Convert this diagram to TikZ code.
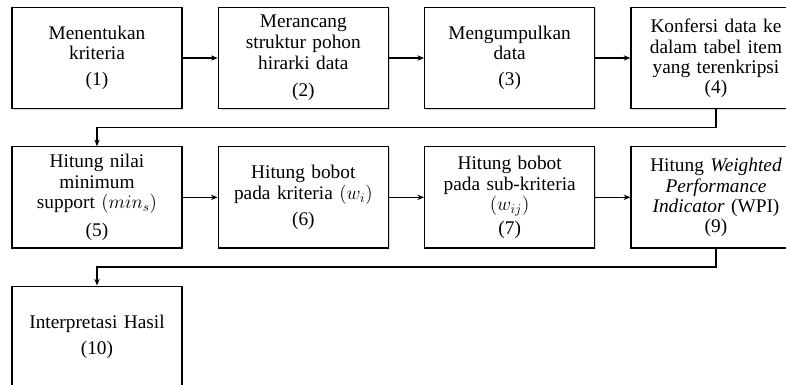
\documentclass[tikz,border=0pt]{standalone}
\usepackage{fontspec}
\setmainfont{Liberation Serif}
\usepackage{tikz}
\usetikzlibrary{positioning}
\usetikzlibrary{arrows.meta}
\usetikzlibrary{shadows}

\begin{document}
\begin{tikzpicture}[x=0.75pt, y=0.75pt, node distance=27.75pt and 26.25pt, every node/.style={font=\fontsize{14.5pt}{15.5pt}\selectfont}, stepbox/.style={draw, line width=1pt, fill=white, align=center, text width=122pt, inner sep=0pt, minimum width=127.5pt, minimum height=75.75pt, drop shadow={shadow xshift=1pt, shadow yshift=-1pt, opacity=0.3}}, link/.style={-{Stealth[length=5pt, width=4pt]}, line width=0.8pt}]
  \useasboundingbox (0,0) rectangle (786,-385);
  % baris pertama
  \node[stepbox] (kriteria) at (97,-58) {Menentukan\\kriteria\\[4pt](1)};
  \node[stepbox, right=of kriteria] (struktur) {Merancang\\struktur pohon\\hirarki data\\[5pt](2)};
  \node[stepbox, right=of struktur] (kumpul) {Mengumpulkan\\data\\[4pt](3)};
  \node[stepbox, right=of kumpul] (konversi) {Konfersi data ke\\dalam tabel item\\yang terenkripsi\\[-1pt](4)};
  % baris kedua
  \node[stepbox, below=of kriteria] (minsup) {Hitung nilai\\minimum\\support $(min_s)$\\[5pt](5)};
  \node[stepbox, right=of minsup] (bobotk) {Hitung bobot\\pada kriteria $(w_i)$\\[4pt](6)};
  \node[stepbox, right=of bobotk] (bobotsk) {Hitung bobot\\pada sub-kriteria\\$(w_{ij})$\\[2pt](7)};
  \node[stepbox, right=of bobotsk] (wpi) {Hitung \textit{Weighted}\\\textit{Performance}\\\textit{Indicator} (WPI)\\[-1pt](9)};
  % baris ketiga
  \node[stepbox, below=of minsup] (hasil) {Interpretasi Hasil\\[4pt](10)};

  \draw[link] (kriteria) -- (struktur);
  \draw[link] (struktur) -- (kumpul);
  \draw[link] (kumpul) -- (konversi);
  \draw[link] (konversi.south) -- ++(0,-18.5) -| (minsup.north);
  \draw[link] (minsup) -- (bobotk);
  \draw[link] (bobotk) -- (bobotsk);
  \draw[link] (bobotsk) -- (wpi);
  \draw[link] (wpi.south) -- ++(0,-18.5) -| (hasil.north);
\end{tikzpicture}
\end{document}
